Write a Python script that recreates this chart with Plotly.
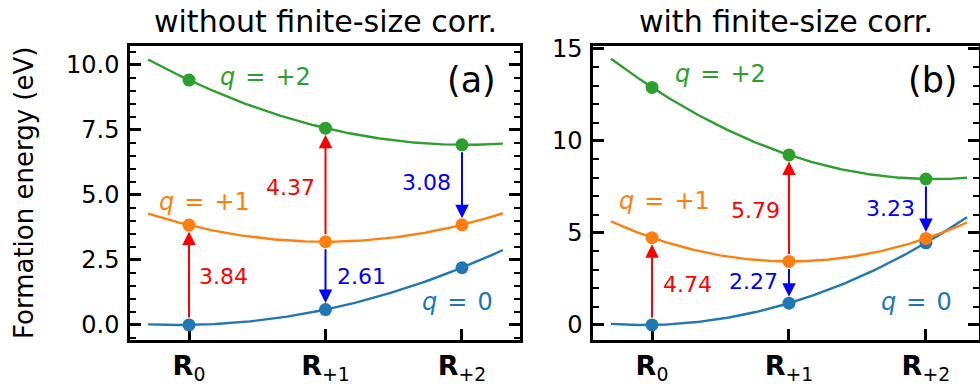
import numpy as np
import plotly.graph_objects as go
from plotly.subplots import make_subplots

# ---- data -------------------------------------------------------------
config_pos = [0, 1, 2]
config_ticks = ["<b>R</b><sub>0</sub>", "<b>R</b><sub>+1</sub>", "<b>R</b><sub>+2</sub>"]

charge_labels = ["<i>q</i>\u200a = \u200a0", "<i>q</i>\u200a = \u200a+1", "<i>q</i>\u200a = \u200a+2"]
charge_colors = ["#1f77b4", "#ff7f0e", "#2ca02c"]

# formation energies (eV) of each charge state at each configuration
raw_q0 = [0.00, 0.59, 2.20]
raw_q1 = [3.84, 3.20, 3.85]
raw_q2 = [9.42, 7.57, 6.93]

corr_q0 = [0.00, 1.18, 4.46]
corr_q1 = [4.74, 3.45, 4.70]
corr_q2 = [12.91, 9.24, 7.93]

# vertical transitions: (configuration index, initial q, final q)
transitions = [(0, 0, 1), (1, 1, 2), (1, 1, 0), (2, 2, 1)]

panel_titles = ["without finite-size corr.", "with finite-size corr."]
panel_tags = ["(a)", "(b)"]
y_ticks_raw = [0, 2.5, 5, 7.5, 10]
y_ticks_corr = [0, 5, 10, 15]

# ---- layout / style ---------------------------------------------------
FONT = "DejaVu Sans"
panels = [
    dict(energies=[raw_q0, raw_q1, raw_q2], xdom=[0.1327, 0.5306], xr=[-0.432, 2.425],
         yr=[-0.58, 10.73], yticks=y_ticks_raw, yfmt=".1f", minor=0.5,
         qpos=[(1.97, 0.88), (0.11, 4.73), (0.56, 9.54)],
         vpos=[(0.06, 1.85, "left"), (0.94, 5.27, "right"), (1.07, 1.88, "left"), (1.935, 5.46, "right")]),
    dict(energies=[corr_q0, corr_q1, corr_q2], xdom=[0.6051, 0.9985], xr=[-0.431, 2.384],
         yr=[-0.82, 15.16], yticks=y_ticks_corr, yfmt="d", minor=1,
         qpos=[(1.93, 1.25), (0.09, 6.71), (0.50, 13.64)],
         vpos=[(0.063, 2.18, "left"), (0.95, 6.24, "right"), (0.935, 2.36, "right"), (1.935, 6.33, "right")]),
]
Y_DOM = [0.1169, 0.8805]

fig = make_subplots(rows=1, cols=2)
x_curve = np.linspace(-0.3, 2.3, 200)

for p, panel in enumerate(panels):
    col = p + 1
    xr = "x" if p == 0 else "x2"
    yr = "y" if p == 0 else "y2"

    # potential-energy curves (quadratic through the three configurations)
    for q, E in enumerate(panel["energies"]):
        coef = np.polyfit(config_pos, E, 2)
        fig.add_trace(go.Scatter(x=x_curve, y=np.polyval(coef, x_curve), mode="lines",
                                 line=dict(color=charge_colors[q], width=2.4),
                                 hoverinfo="skip", showlegend=False), row=1, col=col)
    for q, E in enumerate(panel["energies"]):
        fig.add_trace(go.Scatter(x=config_pos, y=E, mode="markers",
                                 marker=dict(color=charge_colors[q], size=13),
                                 showlegend=False), row=1, col=col)

    # transition arrows with their energies
    for (ci, qi, qf), (vx, vy, anchor) in zip(transitions, panel["vpos"]):
        e_i = panel["energies"][qi][ci]
        e_f = panel["energies"][qf][ci]
        color = "#ff0000" if qf > qi else "#0000ff"
        fig.add_annotation(x=config_pos[ci], y=e_f, ax=config_pos[ci], ay=e_i,
                           xref=xr, yref=yr, axref=xr, ayref=yr, text="",
                           showarrow=True, arrowhead=2, arrowsize=1.35, arrowwidth=2,
                           arrowcolor=color, standoff=6.5, startstandoff=6)
        fig.add_annotation(x=vx, y=vy, xref=xr, yref=yr, text=f"{abs(e_f - e_i):.2f}",
                           showarrow=False, xanchor=anchor, yanchor="middle",
                           font=dict(family=FONT, size=22, color=color))

    # charge-state labels
    for q, (lx, ly) in enumerate(panel["qpos"]):
        fig.add_annotation(x=lx, y=ly, xref=xr, yref=yr, text=charge_labels[q],
                           showarrow=False, xanchor="center", yanchor="middle",
                           font=dict(family=FONT, size=24, color=charge_colors[q]))

    # panel tag and title
    fig.add_annotation(x=0.943 if p == 0 else 0.953, y=0.884,
                       xref=f"{xr} domain", yref=f"{yr} domain", text=panel_tags[p],
                       showarrow=False, xanchor="right", yanchor="middle",
                       font=dict(family=FONT, size=35, color="black"))
    fig.add_annotation(x=sum(panel["xdom"]) / 2, y=0.943, xref="paper", yref="paper",
                       text=panel_titles[p], showarrow=False, xanchor="center", yanchor="middle",
                       font=dict(family=FONT, size=30, color="black"))

    fig.update_xaxes(row=1, col=col, domain=panel["xdom"], range=panel["xr"],
                     tickvals=config_pos, ticktext=config_ticks,
                     tickfont=dict(family=FONT, size=27, color="black"),
                     ticks="inside", ticklen=11, tickwidth=2.5, tickcolor="black",
                     showline=True, linewidth=2.5, linecolor="black", mirror=True,
                     showgrid=False, zeroline=False, layer="below traces")
    fig.update_yaxes(row=1, col=col, domain=Y_DOM, range=panel["yr"],
                     tickvals=panel["yticks"], tickformat=panel["yfmt"],
                     tickfont=dict(family=FONT, size=24, color="black"),
                     ticks="inside", ticklen=11, tickwidth=2.5, tickcolor="black",
                     ticklabelstandoff=3,
                     minor=dict(dtick=panel["minor"], ticks="inside", ticklen=6,
                                tickwidth=2, tickcolor="black"),
                     showline=True, linewidth=2.5, linecolor="black", mirror="ticks",
                     showgrid=False, zeroline=False)

fig.add_annotation(x=24 / 980, y=sum(Y_DOM) / 2, xref="paper", yref="paper",
                   text="Formation energy (eV)", textangle=-90, showarrow=False,
                   xanchor="center", yanchor="middle",
                   font=dict(family=FONT, size=26, color="black"))

fig.update_layout(width=980, height=385, margin=dict(l=0, r=0, t=0, b=0, pad=0),
                  template="none", paper_bgcolor="white", plot_bgcolor="white",
                  font=dict(family=FONT, color="black"), showlegend=False)

fig.write_html("out.html")
